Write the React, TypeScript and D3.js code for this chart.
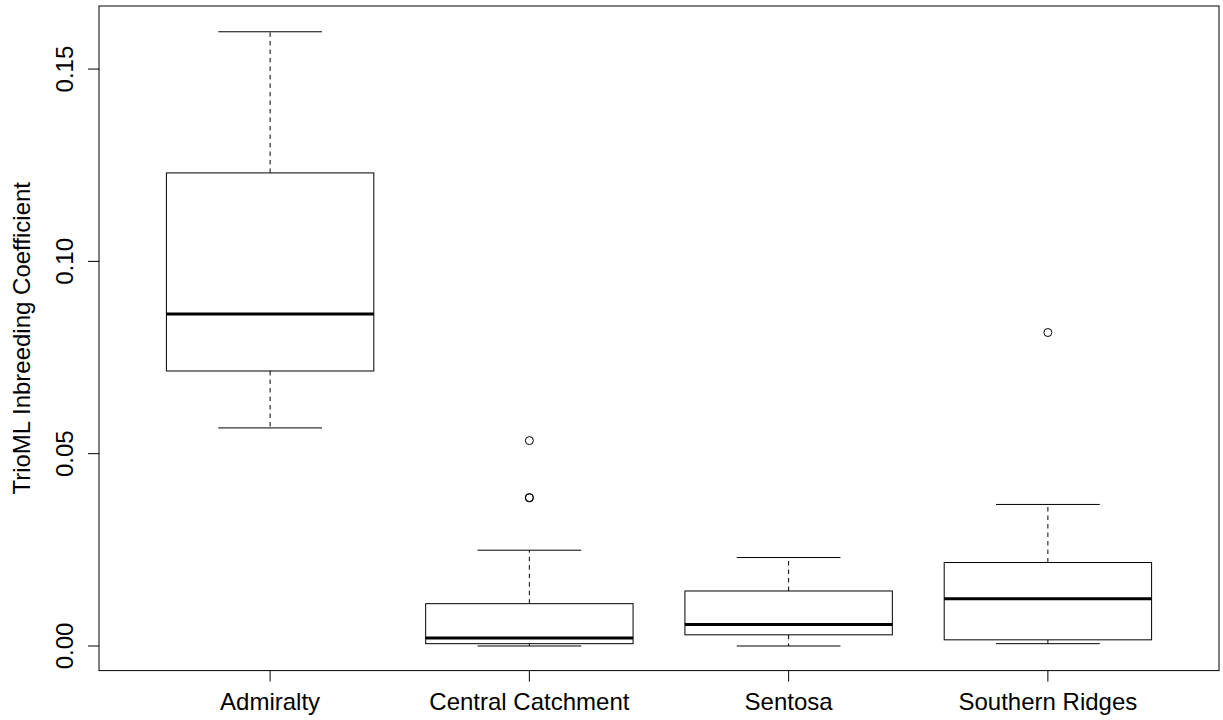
import React from "react";
import * as d3 from "d3";

// Five-number summaries per sampling site (lower whisker, Q1, median, Q3, upper whisker)
const sites = ["Admiralty", "Central Catchment", "Sentosa", "Southern Ridges"];
const lowerWhisker = [0.0567, 0.0, 0.0, 0.0006];
const q1 = [0.0715, 0.0006, 0.0029, 0.0016];
const median = [0.0863, 0.0021, 0.0056, 0.0123];
const q3 = [0.123, 0.011, 0.0143, 0.0217];
const upperWhisker = [0.1597, 0.0249, 0.023, 0.0368];
const outliers: number[][] = [[], [0.0534, 0.0385, 0.0386], [], [0.0815]];
const yTicks = [0.0, 0.05, 0.1, 0.15];

const W = 1223;
const H = 720;
const FONT = "'Liberation Sans', Arial, Helvetica, sans-serif";
const FS = 24;

export default function App() {
  const left = 99;
  const right = 1219;
  const top = 6;
  const bottom = 670.6;

  // R-style axis ranges: data range padded by 4% on each side
  const x = d3.scaleLinear().domain([0.34, 4.66]).range([left, right]);
  const dataMin = 0;
  const dataMax = 0.16;
  const pad = (dataMax - dataMin) * 0.04;
  const y = d3.scaleLinear().domain([dataMin - pad, dataMax + pad]).range([bottom, top]);

  const boxHalf = x(1.4) - x(1);
  const capHalf = boxHalf / 2;

  return (
    <svg
      width={W}
      height={H}
      style={{ position: "absolute", left: 0, top: 0, background: "#fff" }}
      fontFamily={FONT}
    >
      <rect x={0} y={0} width={W} height={H} fill="#fff" />
      {sites.map((name, i) => {
        const cx = x(i + 1);
        return (
          <g key={name}>
            {/* dashed whiskers */}
            <line x1={cx} x2={cx} y1={y(q3[i])} y2={y(upperWhisker[i])} stroke="#000" strokeWidth={1} strokeDasharray="4.5,4" />
            <line x1={cx} x2={cx} y1={y(q1[i])} y2={y(lowerWhisker[i])} stroke="#000" strokeWidth={1} strokeDasharray="4.5,4" />
            {/* staples */}
            <line x1={cx - capHalf} x2={cx + capHalf} y1={y(upperWhisker[i])} y2={y(upperWhisker[i])} stroke="#000" strokeWidth={1} />
            <line x1={cx - capHalf} x2={cx + capHalf} y1={y(lowerWhisker[i])} y2={y(lowerWhisker[i])} stroke="#000" strokeWidth={1} />
            {/* box */}
            <rect x={cx - boxHalf} y={y(q3[i])} width={boxHalf * 2} height={y(q1[i]) - y(q3[i])} fill="#fff" stroke="#000" strokeWidth={1} />
            {/* median */}
            <line x1={cx - boxHalf} x2={cx + boxHalf} y1={y(median[i])} y2={y(median[i])} stroke="#000" strokeWidth={3} />
            {outliers[i].map((v, j) => (
              <circle key={j} cx={cx} cy={y(v)} r={4} fill="none" stroke="#000" strokeWidth={1} />
            ))}
          </g>
        );
      })}

      {/* plot frame */}
      <rect x={left} y={top} width={right - left} height={bottom - top} fill="none" stroke="#000" strokeWidth={1} />

      {/* y axis */}
      {yTicks.map((t) => (
        <g key={t}>
          <line x1={left - 11} x2={left} y1={y(t)} y2={y(t)} stroke="#000" strokeWidth={1} />
          <text
            transform={`translate(73,${y(t)}) rotate(-90)`}
            textAnchor="middle"
            fontSize={FS}
            fill="#000"
          >
            {t.toFixed(2)}
          </text>
        </g>
      ))}
      <text transform={`translate(30,${(top + bottom) / 2}) rotate(-90)`} textAnchor="middle" fontSize={FS} fill="#000">
        TrioML Inbreeding Coefficient
      </text>

      {/* x axis */}
      {sites.map((name, i) => (
        <g key={name}>
          <line x1={x(i + 1)} x2={x(i + 1)} y1={bottom} y2={bottom + 11} stroke="#000" strokeWidth={1} />
          <text x={x(i + 1)} y={710} textAnchor="middle" fontSize={FS} fill="#000">
            {name}
          </text>
        </g>
      ))}
    </svg>
  );
}
